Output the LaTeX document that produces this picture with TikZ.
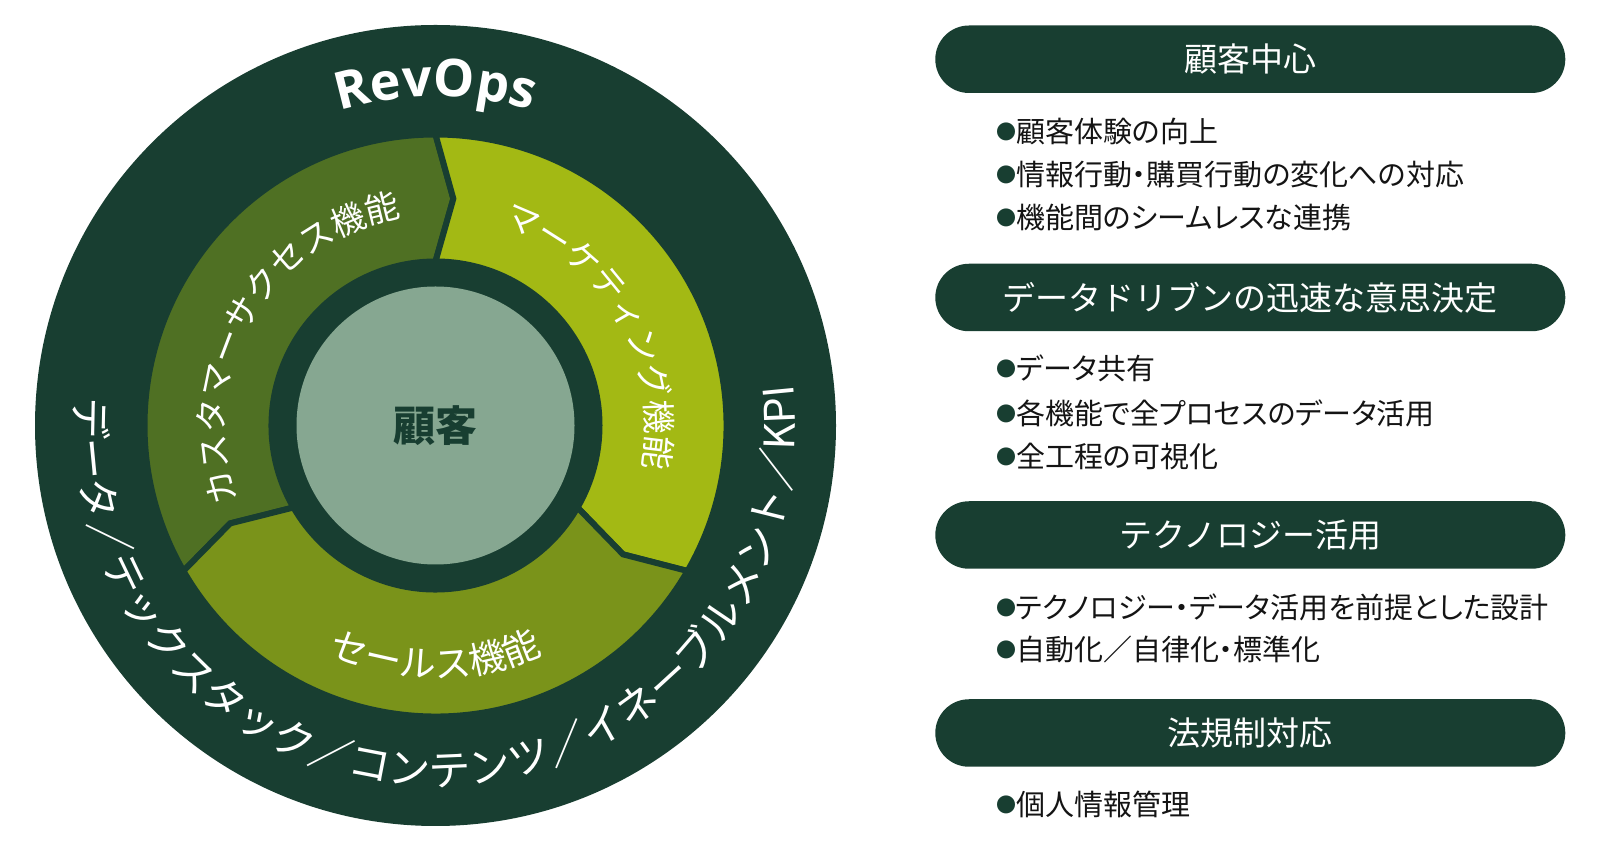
\documentclass[tikz,border=0pt]{standalone}
\usepackage{fontspec}
\setmainfont{Noto Sans CJK JP}
\newfontfamily\latinfont{Open Sans}
\newfontfamily\itemfont{Noto Sans CJK JP}[CharacterWidth=AlternateProportional]
\usetikzlibrary{decorations.text}

\definecolor{ringdark}{RGB}{24,62,49}
\definecolor{csgreen}{RGB}{79,112,35}
\definecolor{mkgreen}{RGB}{163,185,20}
\definecolor{slgreen}{RGB}{122,147,26}
\definecolor{hubsage}{RGB}{134,167,145}
\definecolor{inkblack}{RGB}{20,20,20}

\newcommand\revfont{\latinfont\bfseries\fontsize{52}{58}\selectfont}
\newcommand\segfont{\fontsize{34}{40}\selectfont}
\newcommand\salesfont{\fontsize{37}{40}\selectfont}
\newcommand\rimfont{\fontsize{42}{46}\selectfont}
\newcommand\dotfont{\fontsize{20}{20}\selectfont}

\tikzset{
  pill/.style={fill=ringdark, rounded corners=33.7pt, minimum width=630pt,
    minimum height=67.5pt, text=white, font=\fontsize{33}{40}\selectfont},
  item/.style={anchor=west, inner sep=0pt, text=inkblack,
    font=\itemfont\fontsize{29}{34}\selectfont},
  arctext/.style={decorate, decoration={text along path, text align=center,
    text color=white, text={#1}}},
}

\begin{document}
\begin{tikzpicture}[x=1pt,y=1pt]
  \useasboundingbox (0,0) rectangle (1601,859);
  % wheel
  \begin{scope}[shift={(435.5,433.5)}]
    \fill[ringdark] (0,0) circle[radius=400.5];
    \foreach \s/\e/\c in {90/210/csgreen, -30/90/mkgreen, 210/330/slgreen}
      \filldraw[fill=\c, draw=ringdark, line width=6pt]
        (\s:291) arc[start angle=\s, end angle=\e, radius=291]
        -- ({\e-4.5}:227.5) -- (\e:164)
        arc[start angle=\e, end angle=\s, radius=164]
        -- ({\s-4.5}:227.5) -- cycle;
    \fill[hubsage] (0,0) circle[radius=139];
    \node[text=ringdark, font=\bfseries\fontsize{42}{46}\selectfont] (hub) at (0,0) {顧客};
    \path[arctext={|\revfont|RevOps}] (114:329) arc[start angle=114, end angle=66, radius=329];
    \path[arctext={|\segfont|カスタマーサクセス機能}] (210:211) arc[start angle=210, end angle=90, radius=211];
    \path[arctext={|\segfont|マーケティング機能}] (90:211) arc[start angle=90, end angle=-30, radius=211];
    \path[arctext={|\salesfont|セールス機能}] (220:252) arc[start angle=220, end angle=320, radius=252];
    \path[arctext={|\rimfont|データ／テックスタック／コンテンツ／イネーブルメント／KPI}]
      (170.5:360) arc[start angle=170.5, end angle=371.5, radius=360];
  \end{scope}
  % right column
  \foreach \y/\t [count=\i] in {799.75/顧客中心, 561.5/データドリブンの迅速な意思決定,
      324/テクノロジー活用, 126/法規制対応}
    \node[pill] (head\i) at (1250.3,\y) {\t};
  \foreach \y/\t [count=\i] in {728/顧客体験の向上, 684/情報行動・購買行動の変化への対応,
      641.5/機能間のシームレスな連携, 490.4/データ共有, 445.5/各機能で全プロセスのデータ活用,
      403/全工程の可視化, 251.5/テクノロジー・データ活用を前提とした設計,
      210/自動化／自律化・標準化, 54.4/個人情報管理}
    \node[item] (item\i) at (996,\y) {\raisebox{3pt}{\dotfont\textcolor{ringdark}{●}}\t};
\end{tikzpicture}
\end{document}
